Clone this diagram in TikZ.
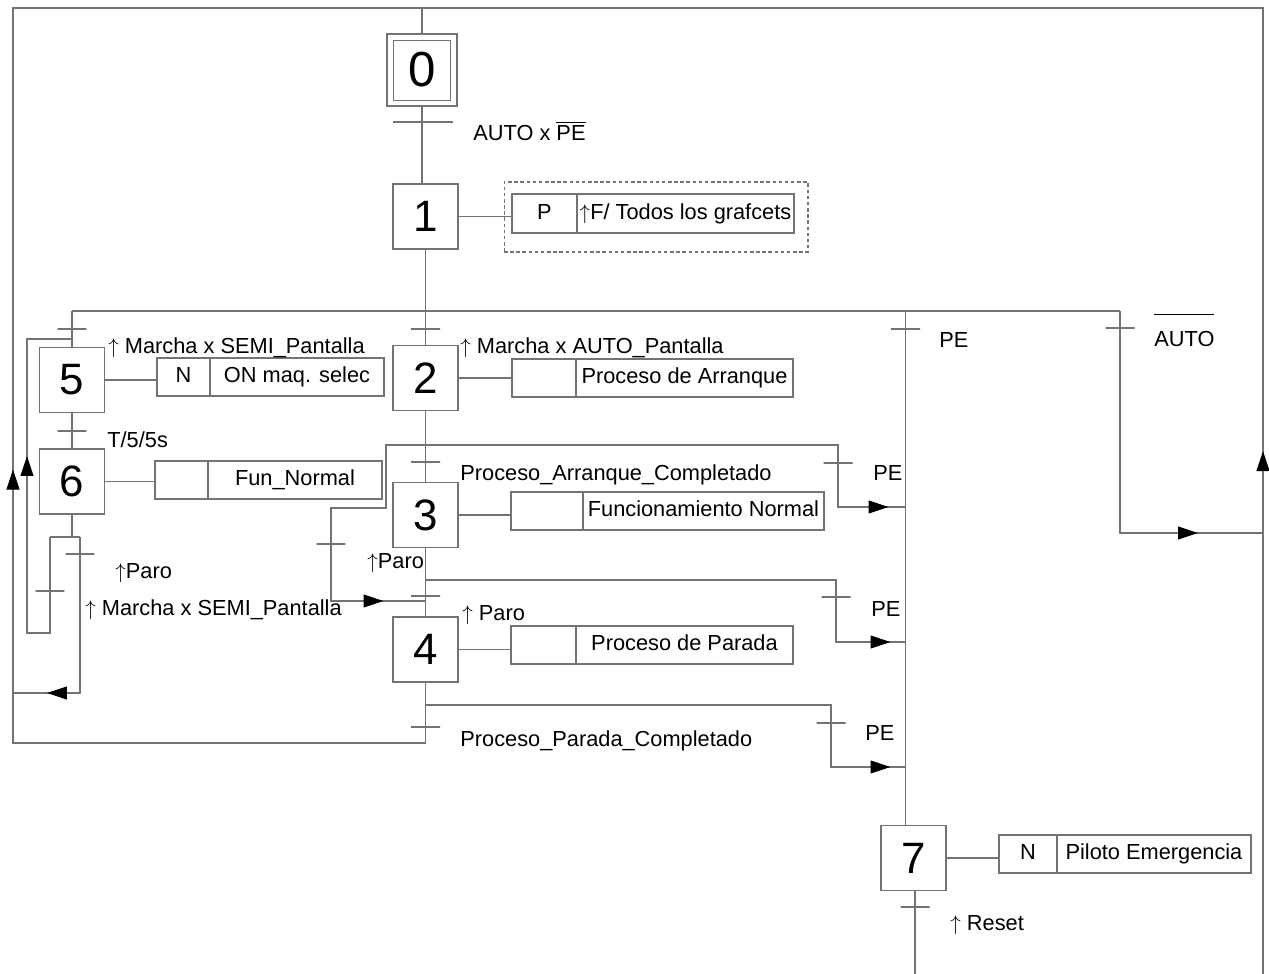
\documentclass[tikz,border=0pt]{standalone}
\usepackage{fontspec}
\setmainfont{Liberation Sans}
\usetikzlibrary{arrows.meta,decorations.markings,calc}
\newcommand\up{\ensuremath{\uparrow}}
\tikzset{
  ln/.style={draw=black!55, line width=0.6pt},
  stepbox/.style={ln, rectangle, minimum width=1.3cm, minimum height=1.3cm, inner sep=0pt, font=\fontsize{25}{28}\selectfont},
  tick/.style={ln, rectangle, minimum width=0.58cm, minimum height=0pt, inner sep=0pt, outer sep=0pt},
  lbl/.style={anchor=base west, inner sep=0pt, font=\fontsize{12.4}{14}\selectfont},
  cell/.style={ln, rectangle, inner sep=0pt, text height=9pt, text depth=2.6pt, font=\fontsize{12.4}{14}\selectfont},
  arr/.style={postaction={decorate}, decoration={markings, mark=at position #1 with {\arrow{Triangle[length=0.4cm,width=0.26cm,color=black]}}}},
}
\newcommand\cellnode[6]{\node[cell, minimum width={(#3-#2)*0.02cm}, minimum height={(#5-#4)*0.02cm}] (#1) at ({(#2+#3)/2},{(#4+#5)/2}) {#6};}
\begin{document}
\begin{tikzpicture}[x=0.02cm,y=-0.02cm]
\fill[white] (0,0) rectangle (1269,974);
\useasboundingbox (0,0) rectangle (1269,974);

% steps
\node[stepbox, minimum width=1.4cm, minimum height=1.44cm, font=\fontsize{28}{30}\selectfont] (s0) at (422,70) {0};
\draw[ln] ($(s0.north west)+(7,7)$) rectangle ($(s0.south east)+(-7,-6)$);
\node[stepbox] (s1) at (425.5,216.5) {1};
\node[stepbox] (s2) at (425.5,378) {2};
\node[stepbox] (s3) at (425.5,515) {3};
\node[stepbox] (s4) at (425.5,649.5) {4};
\node[stepbox] (s5) at (72,380) {5};
\node[stepbox] (s6) at (72,481.5) {6};
\node[stepbox] (s7) at (913.5,858) {7};

% transitions
\node[tick, minimum width=1.2cm] (t01) at (423,122) {};
\node[tick] (t12) at (425.5,329) {};
\node[tick] (t5) at (72,329) {};
\node[tick] (tPE) at (905.5,329) {};
\node[tick] (tAU) at (1120,328) {};
\node[tick] (t56) at (72,431) {};
\node[tick] (t23) at (425.5,462) {};
\node[tick] (t34) at (425.5,596) {};
\node[tick] (t45) at (425.5,727) {};
\node[tick] (tb1) at (838,463) {};
\node[tick] (tb2) at (836,597) {};
\node[tick] (tb3) at (831,723) {};
\node[tick] (tL) at (331,544) {};
\node[tick] (t6a) at (50,591) {};
\node[tick] (t6b) at (80,554) {};
\node[tick] (t7) at (915,907) {};

% coordinates
\coordinate (tl) at (13,8);
\coordinate (tr) at (1263,8);
\coordinate (br) at (1263,974);
\coordinate (bl) at (13,743);
\coordinate (d1) at (425.5,311);
\coordinate (ja) at (1120,533);
\coordinate (d6) at (72,537);
\coordinate (l1) at (50,633);
\coordinate (l2) at (27,633);
\coordinate (l3) at (27,339);
\coordinate (r1) at (13,693);
\coordinate (d2) at (425.5,445);
\coordinate (k0) at (386,445);
\coordinate (k1) at (386,508);
\coordinate (k2) at (425.5,601);
\coordinate (e1) at (905.5,507);
\coordinate (d3) at (425.5,580);
\coordinate (e2) at (905.5,642);
\coordinate (d4) at (425.5,705);
\coordinate (e3) at (905.5,767);
\coordinate (bot) at (915,974);

% main frame
\draw[ln, arr=14.93cm] (s4.south) -- (s4.south |- bl) -- (bl) -- (tl) -- (tl -| s0) -- (s0.north);
\draw[ln, arr=10.46cm] (br) -- (tr) -- (tl -| s0);

% sequence
\draw[ln] (s0.south) -- (s0.south |- s1.north);
\draw[ln] (s1.south) -- (d1);
\draw[ln] (s5.north |- d1) -- (tAU |- d1);
\draw[ln] (s5.north |- d1) -- (s5.north);
\draw[ln] (d1) -- (s2.north);
\draw[ln] (tPE |- d1) -- (tPE |- s7.north);
\draw[ln, arr=-1.3cm] (tAU |- d1) -- (ja) -- (ja -| br);
\draw[ln] (s5.south) -- (s6.north);

% step 6 divergence
\draw[ln] (s6.south) -- (d6);
\draw[ln] (t6a |- d6) -- (t6b |- d6);
\draw[ln, arr=-3.24cm] (t6a |- d6) -- (l1) -- (l2) -- (l3) -- (s5.north |- l3);
\draw[ln, arr=-0.68cm] (t6b |- d6) -- (t6b |- r1) -- (r1);

% step 2 outputs
\draw[ln] (s2.south) -- (s3.north);
\draw[ln, arr=-0.34cm] (d2) -- (tb1 |- d2) -- (tb1 |- e1) -- (e1);
\draw[ln, arr=-0.84cm] (d2) -- (k0) -- (k1) -- (tL |- k1) -- (tL |- k2) -- (k2);

% step 3 outputs
\draw[ln] (s3.south) -- (s4.north);
\draw[ln, arr=-0.3cm] (d3) -- (tb2 |- d3) -- (tb2 |- e2) -- (e2);

% step 4 outputs
\draw[ln, arr=-0.3cm] (d4) -- (tb3 |- d4) -- (tb3 |- e3) -- (e3);

% step 7 output
\draw[ln] (s7.south -| t7) -- (bot);

% actions
\node[ln, dash pattern=on 2pt off 1.5pt, rectangle, minimum width=6.08cm, minimum height=1.4cm, inner sep=0pt] (a1d) at (656,217) {};
\cellnode{a1q}{512}{577}{194}{233}{P}
\cellnode{a1t}{577}{794}{194}{233}{\up F/ Todos los grafcets}
\cellnode{a2q}{512}{576}{359}{397}{}
\cellnode{a2t}{576}{793}{359}{397}{Proceso de Arranque}
\cellnode{a5q}{157}{210}{358}{396}{N}
\cellnode{a5t}{210}{384}{358}{396}{ON maq. selec}
\cellnode{a6q}{155}{208}{461}{499}{}
\cellnode{a6t}{208}{382}{461}{499}{Fun\_Normal}
\cellnode{a3q}{511}{583}{492}{530}{}
\cellnode{a3t}{583}{824}{492}{530}{Funcionamiento Normal}
\cellnode{a4q}{511}{576}{626}{664}{}
\cellnode{a4t}{576}{793}{626}{664}{Proceso de Parada}
\cellnode{a7q}{999}{1057}{835}{873}{N}
\cellnode{a7t}{1057}{1251}{835}{873}{Piloto Emergencia}

\draw[ln] (s1.east) -- (a1q.west |- s1.east);
\draw[ln] (s2.east) -- (a2q.west |- s2.east);
\draw[ln] (s5.east) -- (a5q.west |- s5.east);
\draw[ln] (s6.east) -- (a6q.west |- s6.east);
\draw[ln] (s3.east) -- (a3q.west |- s3.east);
\draw[ln] (s4.east) -- (a4q.west |- s4.east);
\draw[ln] (s7.east) -- (a7q.west |- s7.east);

% labels
\node[lbl] (L01) at (473,140) {AUTO x $\overline{\mbox{PE}}$};
\node[lbl] (L5) at (108,353) {\up\ Marcha x SEMI\_Pantalla};
\node[lbl] (L12) at (460,353) {\up\ Marcha x AUTO\_Pantalla};
\node[lbl] (L56) at (107,447) {T/5/5s};
\node[lbl] (LPE) at (939,347) {PE};
\node[lbl] (LAU) at (1154,346) {$\overline{\mbox{AUTO}\rule{0pt}{0.58cm}}$};
\node[lbl] (L23) at (460,480) {Proceso\_Arranque\_Completado};
\node[lbl] (Lb1) at (873,480) {PE};
\node[lbl] (LL) at (367,568) {\up Paro};
\node[lbl] (L6b) at (115,578) {\up Paro};
\node[lbl] (L6a) at (85,615) {\up\ Marcha x SEMI\_Pantalla};
\node[lbl] (L34) at (462,620) {\up\ Paro};
\node[lbl] (Lb2) at (871,616) {PE};
\node[lbl] (L45) at (460,746) {Proceso\_Parada\_Completado};
\node[lbl] (Lb3) at (865,740) {PE};
\node[lbl] (L7) at (950,930) {\up\ Reset};
\end{tikzpicture}
\end{document}
